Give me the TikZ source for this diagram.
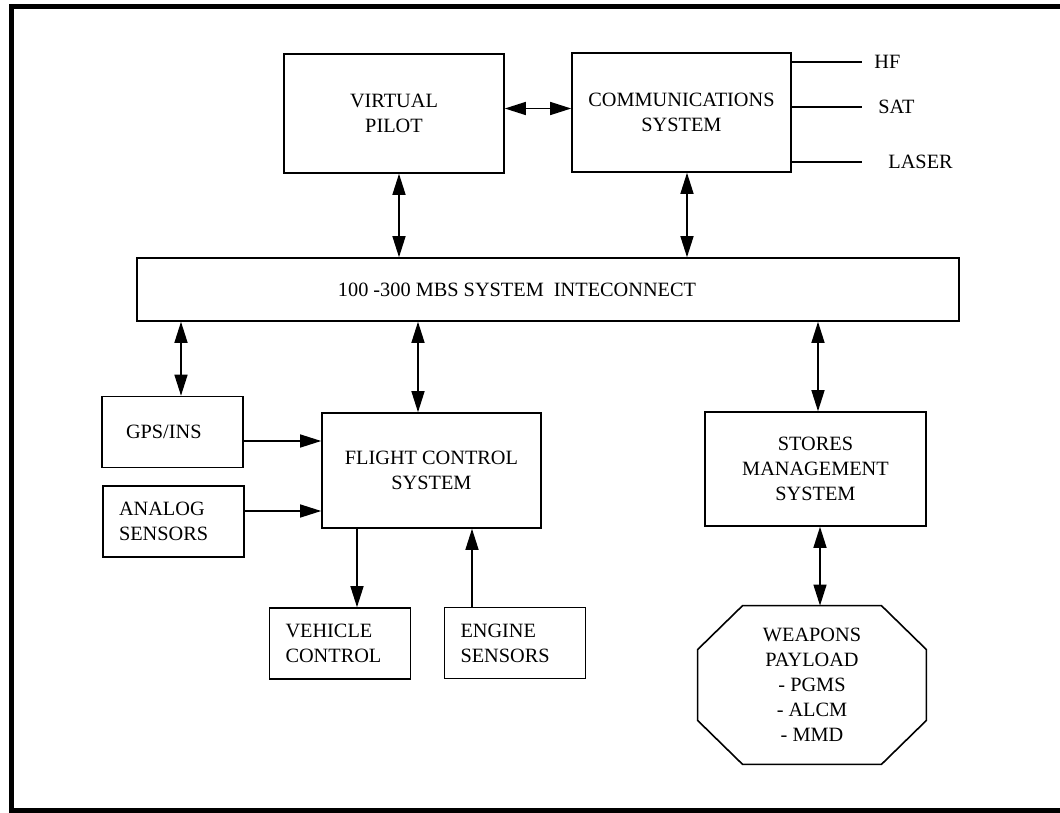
\documentclass[tikz,border=0pt]{standalone}
\usepackage{fontspec}
\setmainfont{Liberation Serif}
\usepackage{tikz}
\usetikzlibrary{positioning,arrows.meta}
\tikzstyle{block}    = [draw, line width=0.8pt, align=center, inner sep=0pt]
\tikzstyle{unit}     = [draw, line width=0.8pt, align=left, text width=54.5pt, inner xsep=8pt, minimum height=35.5pt]
\tikzstyle{arrow}    = [line width=0.7pt, -{Triangle[length=10.5pt,width=6.5pt]}]
\tikzstyle{dblarrow} = [line width=0.7pt, {Triangle[length=10.5pt,width=6.5pt]}-{Triangle[length=10.5pt,width=6.5pt]}]
\tikzstyle{tag}      = [inner sep=0pt]

\begin{document}
\begin{tikzpicture}[x=0.5pt, y=-0.5pt, font=\fontsize{10.15pt}{12.5pt}\selectfont]
        \useasboundingbox (0,0) rectangle (1060,813);
        % frame, open on the right
        \draw[line width=2.5pt] (1060,7) -- (11,7) -- (11,810) -- (1060,810);

        \node[block, minimum width=110pt, minimum height=59.5pt] (vp) at (394,113.5) {VIRTUAL\\PILOT};
        \node[block, minimum width=109.5pt, minimum height=59.5pt] (comms) at (681.5,112.5) {COMMUNICATIONS\\SYSTEM};
        \node[block, minimum width=411pt, minimum height=31.5pt] (bus) at (548,289.5) {100 -300 MBS SYSTEM\ \ INTECONNECT\hspace*{31pt}};
        \node[block, minimum width=109.5pt, minimum height=57.5pt] (fcs) at (431.5,470.5) {FLIGHT CONTROL\\SYSTEM};
        \node[block, minimum width=110.5pt, minimum height=57pt] (stores) at (815.5,469) {STORES\\MANAGEMENT\\SYSTEM};

        \node[unit] (gps) at (172.5,432) {\hspace*{4pt}GPS/INS};
        \node[unit] (analog) at (173.5,521.5) {ANALOG\\SENSORS};
        \node[unit] (vehicle) at (340,643.5) {VEHICLE\\CONTROL};
        \node[unit] (engine) at (515,643) {ENGINE\\SENSORS};

        % weapons payload octagon
        \node[align=center, inner sep=0pt, minimum width=114pt, minimum height=79pt] (weapons) at (812,685) {WEAPONS\\PAYLOAD\\- PGMS\\- ALCM\\- MMD};
        \draw[line width=0.8pt] ([xshift=22.5pt]weapons.north west) -- ([xshift=-22.5pt]weapons.north east)
            -- ([yshift=-22pt]weapons.north east) -- ([yshift=22pt]weapons.south east)
            -- ([xshift=-22.5pt]weapons.south east) -- ([xshift=22.5pt]weapons.south west)
            -- ([yshift=22pt]weapons.south west) -- ([yshift=-22pt]weapons.north west) -- cycle;

        % links of the communications system
        \coordinate (hfend) at (862,62);
        \coordinate (satend) at (862,107);
        \coordinate (laserend) at (862,162);
        \node[tag, right=6pt of hfend] (hf) {HF};
        \node[tag, right=8pt of satend] (sat) {SAT};
        \node[tag, right=13pt of laserend] (laser) {LASER};
        \draw[line width=0.7pt] (comms.east |- hfend) -- (hfend);
        \draw[line width=0.7pt] (comms.east |- satend) -- (satend);
        \draw[line width=0.7pt] (comms.east |- laserend) -- (laserend);

        \draw[dblarrow] ([yshift=2.5pt]vp.east) -- ([yshift=2.5pt]vp.east -| comms.west);
        \draw[dblarrow] ([xshift=2.5pt]vp.south) -- ([xshift=2.5pt]vp.south |- bus.north);
        \draw[dblarrow] ([xshift=2.75pt]comms.south) -- ([xshift=2.75pt]comms.south |- bus.north);
        \draw[dblarrow] ([xshift=4.25pt]gps.north) -- ([xshift=4.25pt]gps.north |- bus.south);
        \draw[dblarrow] ([xshift=-6.75pt]fcs.north) -- ([xshift=-6.75pt]fcs.north |- bus.south);
        \draw[dblarrow] ([xshift=1.25pt]stores.north) -- ([xshift=1.25pt]stores.north |- bus.south);
        \draw[dblarrow] ([xshift=2.25pt]stores.south) -- ([xshift=2.25pt]stores.south |- weapons.north);

        \draw[arrow] ([yshift=-4.5pt]gps.east) -- ([yshift=-4.5pt]gps.east -| fcs.west);
        \draw[arrow] ([yshift=5.25pt]analog.east) -- ([yshift=5.25pt]analog.east -| fcs.west);
        \draw[arrow] ([xshift=8.5pt]vehicle.north |- fcs.south) -- ([xshift=8.5pt]vehicle.north);
        \draw[arrow] ([xshift=-21.5pt]engine.north) -- ([xshift=-21.5pt]engine.north |- fcs.south);
\end{tikzpicture}
\end{document}
